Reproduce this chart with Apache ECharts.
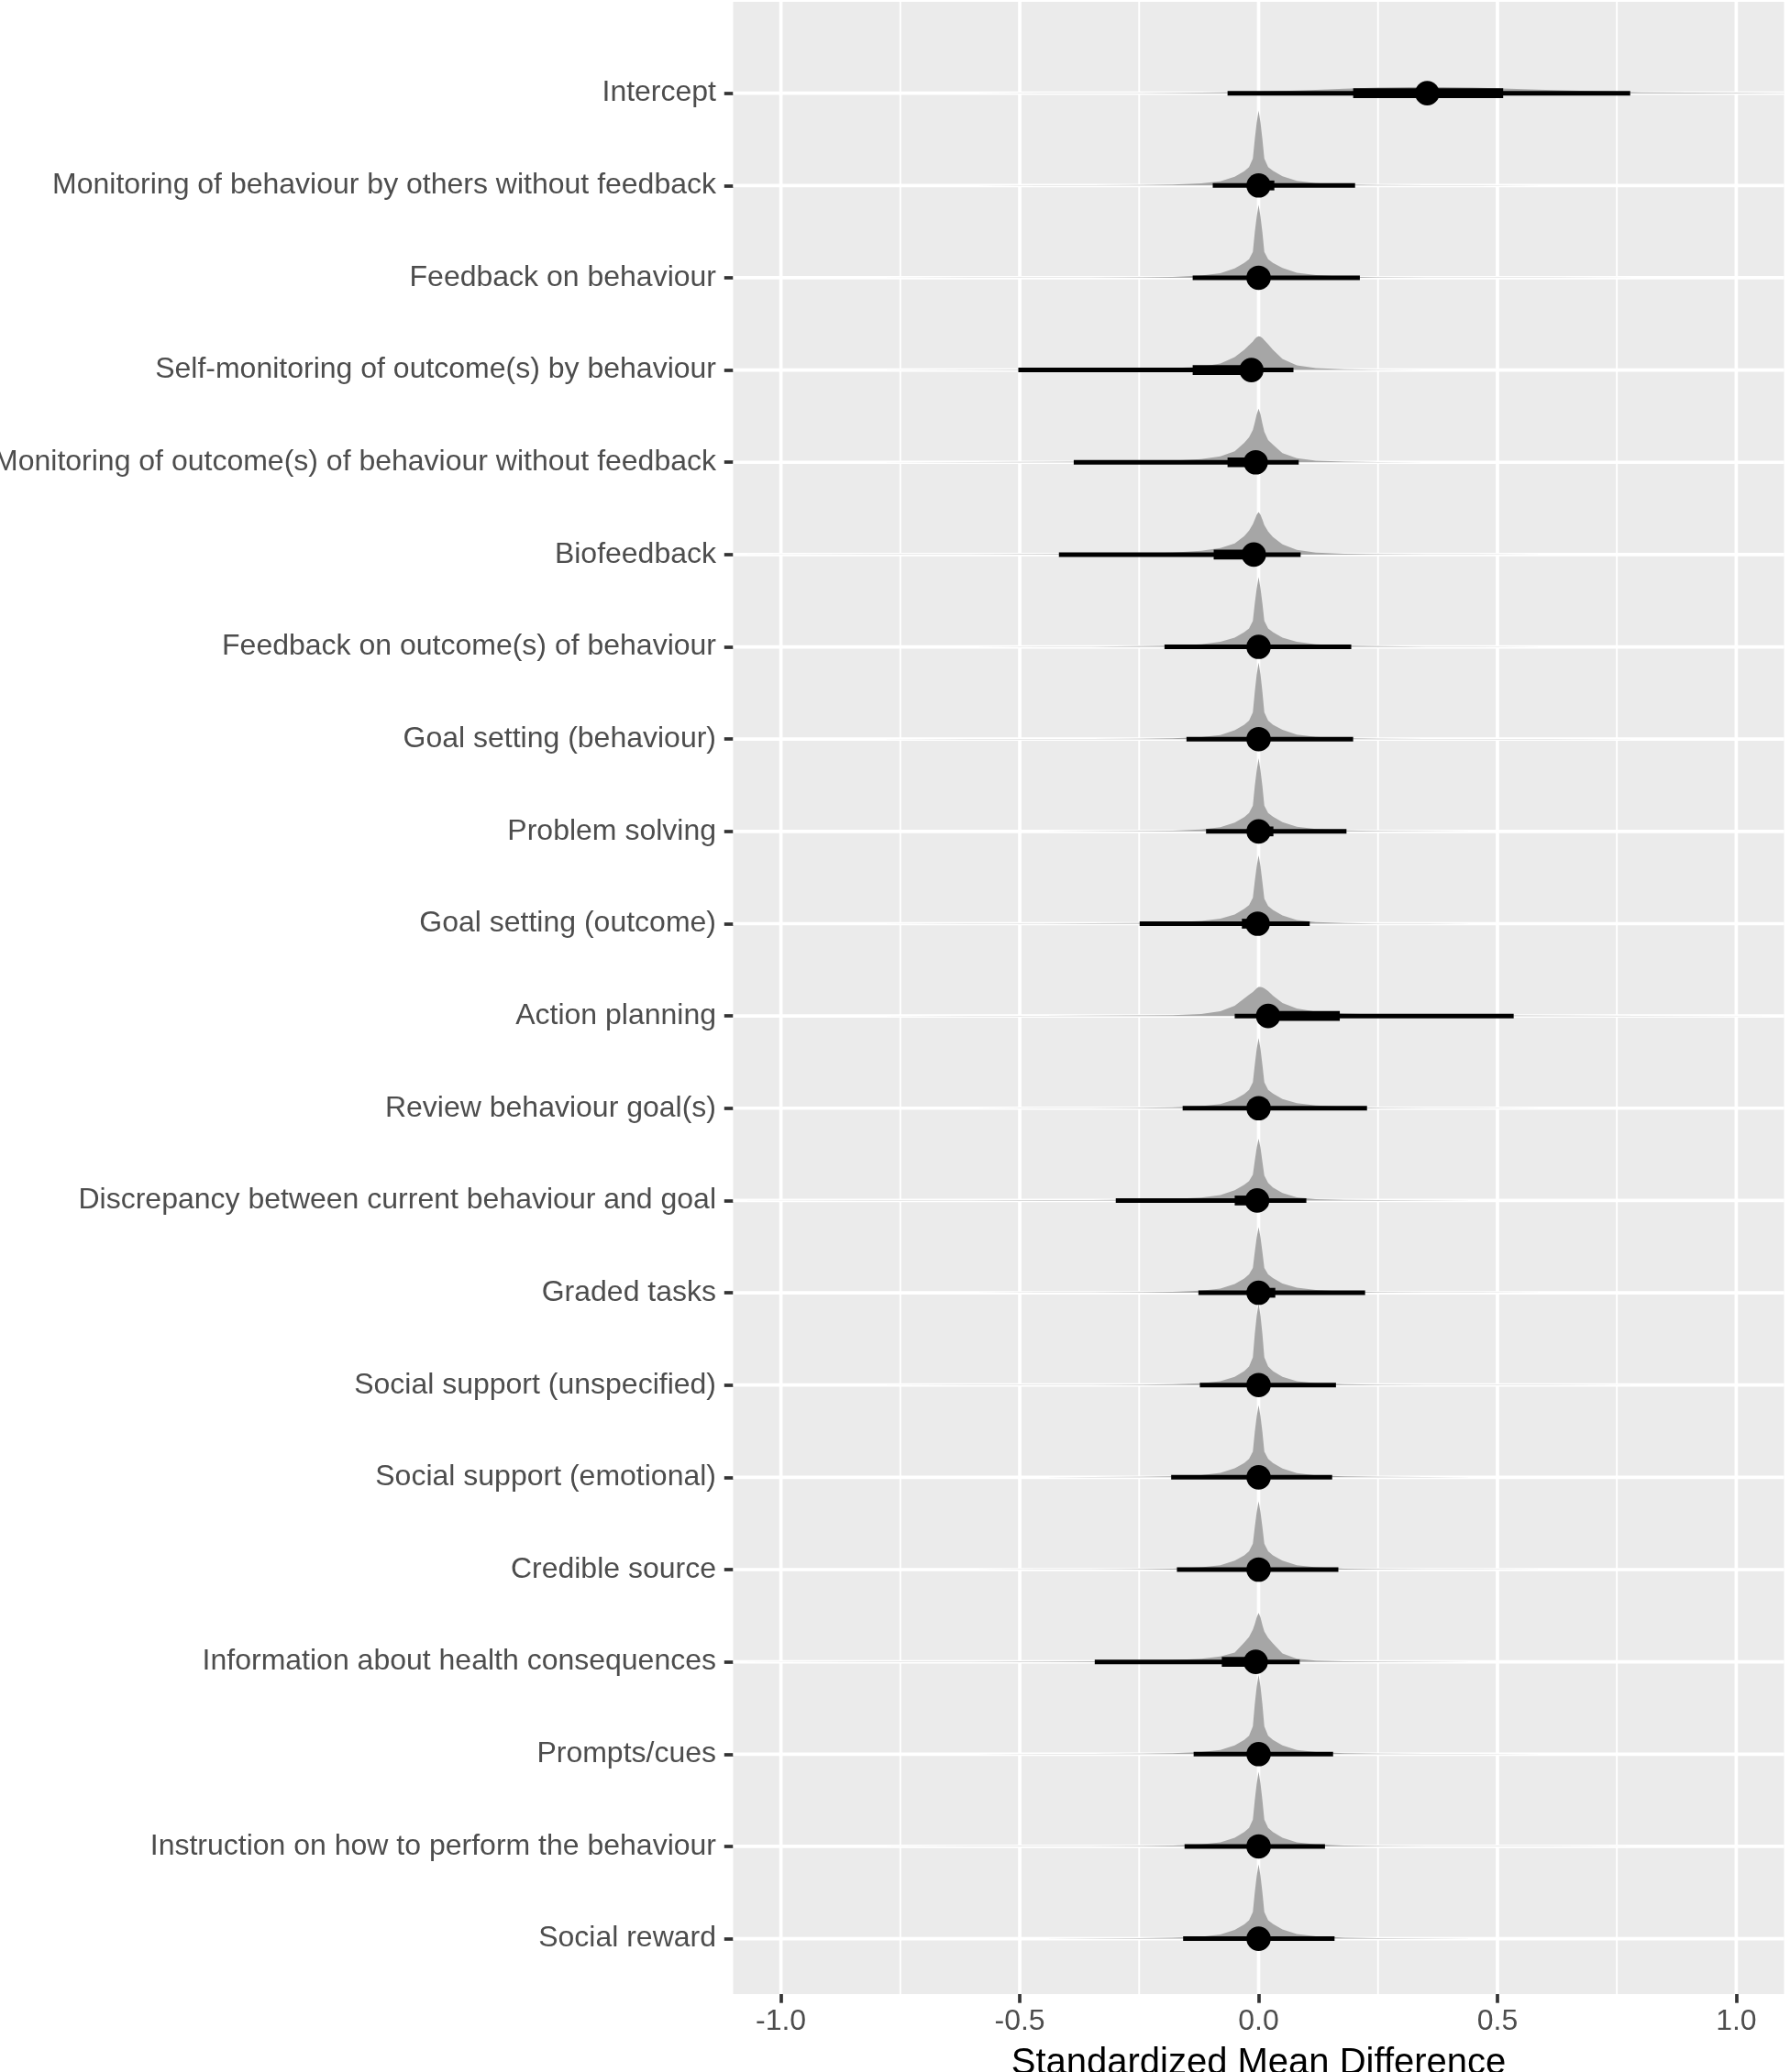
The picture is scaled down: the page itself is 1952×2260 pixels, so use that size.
<!DOCTYPE html>
<html>
<head>
<meta charset="utf-8">
<script src="https://cdn.jsdelivr.net/npm/echarts@6/dist/echarts.min.js"></script>
<style>
  html, body { margin: 0; padding: 0; background: #ffffff; }
  #chart { width: 1952px; height: 2260px; }
</style>
</head>
<body>
<div id="chart"></div>
<script>
// ---------------- DATA ----------------
const categories = [
  "Intercept",
  "Monitoring of behaviour by others without feedback",
  "Feedback on behaviour",
  "Self-monitoring of outcome(s) by behaviour",
  "Monitoring of outcome(s) of behaviour without feedback",
  "Biofeedback",
  "Feedback on outcome(s) of behaviour",
  "Goal setting (behaviour)",
  "Problem solving",
  "Goal setting (outcome)",
  "Action planning",
  "Review behaviour goal(s)",
  "Discrepancy between current behaviour and goal",
  "Graded tasks",
  "Social support (unspecified)",
  "Social support (emotional)",
  "Credible source",
  "Information about health consequences",
  "Prompts/cues",
  "Instruction on how to perform the behaviour",
  "Social reward"
];

// point estimate (median) and intervals
const medians = [0.353, 0, 0, -0.015, -0.006, -0.01, 0, 0, 0, -0.002, 0.02, 0, -0.003, 0, 0, 0, 0, -0.006, 0, 0, 0];
const lo95 = [-0.065, -0.096, -0.138, -0.503, -0.387, -0.418, -0.197, -0.151, -0.110, -0.249, -0.05, -0.159, -0.299, -0.126, -0.123, -0.183, -0.171, -0.343, -0.136, -0.155, -0.158];
const hi95 = [0.778, 0.202, 0.212, 0.073, 0.084, 0.088, 0.194, 0.198, 0.184, 0.107, 0.534, 0.227, 0.100, 0.223, 0.162, 0.154, 0.167, 0.086, 0.156, 0.139, 0.159];
const lo66 = [0.198, -0.019, -0.015, -0.138, -0.065, -0.094, -0.015, -0.015, -0.019, -0.035, 0.0, -0.015, -0.05, -0.019, -0.012, -0.015, -0.015, -0.077, -0.012, -0.012, -0.012];
const hi66 = [0.512, 0.033, 0.015, 0.0, 0.004, 0.0, 0.015, 0.015, 0.031, 0.02, 0.17, 0.015, 0.004, 0.035, 0.012, 0.015, 0.015, 0.003, 0.012, 0.012, 0.012];

// density outline: x positions and heights (fraction of a row) per row
const densX = [-1.1,-0.8,-0.6,-0.45,-0.35,-0.25,-0.18,-0.12,-0.08,-0.05,-0.03,-0.02,-0.012,-0.008,-0.004,0,0.004,0.008,0.012,0.02,0.03,0.05,0.08,0.12,0.18,0.25,0.35,0.45,0.6,0.8,1.1];
const densH = [
  /* Intercept */ [0,0,0,0.0003,0.001,0.002,0.005,0.007,0.01,0.012,0.014,0.015,0.015,0.016,0.016,0.017,0.017,0.017,0.018,0.019,0.021,0.024,0.029,0.037,0.048,0.06,0.068,0.062,0.036,0.009,0.001],
  /* Monitoring by others */ [0,0.0005,0.001,0.002,0.003,0.005,0.01,0.022,0.045,0.095,0.155,0.2,0.29,0.5,0.68,0.81,0.68,0.5,0.29,0.2,0.16,0.1,0.05,0.025,0.01,0.005,0.003,0.002,0.001,0.0005,0],
  /* Feedback on behaviour */ [0,0.0005,0.001,0.002,0.003,0.005,0.01,0.024,0.05,0.1,0.16,0.2,0.28,0.49,0.66,0.79,0.66,0.49,0.28,0.2,0.16,0.105,0.055,0.028,0.012,0.005,0.003,0.002,0.001,0.0005,0],
  /* Self-monitoring outcome */ [0,0.001,0.003,0.006,0.009,0.013,0.02,0.035,0.07,0.14,0.22,0.27,0.31,0.335,0.355,0.365,0.36,0.345,0.325,0.28,0.22,0.12,0.05,0.02,0.008,0.004,0.002,0.001,0,0,0],
  /* Monitoring of outcomes */ [0,0.001,0.002,0.004,0.007,0.011,0.018,0.035,0.065,0.12,0.21,0.27,0.35,0.43,0.52,0.58,0.52,0.42,0.33,0.24,0.19,0.1,0.045,0.018,0.007,0.003,0.001,0,0,0,0],
  /* Biofeedback */ [0,0.001,0.002,0.004,0.007,0.012,0.02,0.04,0.07,0.12,0.2,0.26,0.33,0.38,0.43,0.46,0.43,0.38,0.32,0.25,0.19,0.11,0.05,0.02,0.008,0.004,0.002,0.001,0,0,0],
  /* Feedback on outcomes */ [0,0.0005,0.001,0.002,0.004,0.007,0.013,0.027,0.055,0.1,0.16,0.2,0.28,0.47,0.63,0.755,0.63,0.47,0.28,0.2,0.16,0.1,0.055,0.027,0.013,0.007,0.004,0.002,0.001,0.0005,0],
  /* Goal setting (behaviour) */ [0,0.0005,0.001,0.002,0.003,0.005,0.01,0.022,0.045,0.095,0.155,0.2,0.29,0.51,0.7,0.83,0.7,0.51,0.29,0.2,0.155,0.1,0.05,0.024,0.01,0.005,0.003,0.002,0.001,0.0005,0],
  /* Problem solving */ [0,0.0005,0.001,0.002,0.003,0.005,0.009,0.02,0.045,0.095,0.155,0.2,0.28,0.49,0.66,0.79,0.66,0.49,0.28,0.2,0.16,0.1,0.05,0.025,0.01,0.005,0.003,0.002,0.001,0.0005,0],
  /* Goal setting (outcome) */ [0,0.001,0.002,0.003,0.005,0.008,0.014,0.03,0.055,0.1,0.16,0.2,0.28,0.46,0.62,0.74,0.62,0.45,0.27,0.19,0.15,0.09,0.04,0.018,0.007,0.003,0.002,0.001,0,0,0],
  /* Action planning */ [0,0,0.001,0.002,0.003,0.005,0.008,0.02,0.05,0.11,0.19,0.23,0.26,0.28,0.3,0.315,0.315,0.31,0.3,0.27,0.22,0.14,0.08,0.045,0.025,0.016,0.01,0.007,0.004,0.002,0],
  /* Review behaviour goal(s) */ [0,0.0005,0.001,0.002,0.003,0.005,0.01,0.022,0.045,0.095,0.155,0.2,0.28,0.47,0.64,0.76,0.64,0.47,0.28,0.2,0.16,0.1,0.055,0.03,0.013,0.006,0.003,0.002,0.001,0.0005,0],
  /* Discrepancy */ [0,0.001,0.002,0.003,0.005,0.009,0.016,0.032,0.06,0.11,0.17,0.21,0.28,0.43,0.57,0.67,0.57,0.42,0.27,0.19,0.14,0.08,0.035,0.014,0.006,0.003,0.001,0,0,0,0],
  /* Graded tasks */ [0,0.0005,0.001,0.002,0.003,0.005,0.01,0.022,0.045,0.095,0.155,0.2,0.27,0.44,0.6,0.71,0.6,0.44,0.27,0.2,0.16,0.1,0.055,0.03,0.013,0.006,0.003,0.002,0.001,0.0005,0],
  /* Social support (unspecified) */ [0,0.0005,0.001,0.002,0.003,0.005,0.009,0.02,0.042,0.09,0.15,0.2,0.3,0.55,0.75,0.885,0.75,0.55,0.3,0.2,0.15,0.09,0.042,0.02,0.009,0.005,0.003,0.002,0.001,0.0005,0],
  /* Social support (emotional) */ [0,0.0005,0.001,0.002,0.003,0.006,0.011,0.024,0.048,0.098,0.155,0.2,0.28,0.49,0.66,0.78,0.66,0.49,0.28,0.2,0.155,0.095,0.045,0.022,0.01,0.005,0.003,0.002,0.001,0.0005,0],
  /* Credible source */ [0,0.0005,0.001,0.002,0.003,0.006,0.011,0.024,0.048,0.098,0.155,0.2,0.28,0.46,0.62,0.74,0.62,0.46,0.28,0.2,0.155,0.098,0.048,0.024,0.011,0.006,0.003,0.002,0.001,0.0005,0],
  /* Information about health */ [0,0.001,0.002,0.004,0.006,0.01,0.018,0.035,0.06,0.1,0.21,0.27,0.35,0.41,0.48,0.53,0.48,0.4,0.33,0.26,0.2,0.09,0.035,0.014,0.006,0.003,0.001,0,0,0,0],
  /* Prompts/cues */ [0,0.0005,0.001,0.002,0.003,0.005,0.01,0.022,0.045,0.095,0.155,0.2,0.3,0.54,0.73,0.86,0.73,0.54,0.3,0.2,0.155,0.095,0.045,0.022,0.01,0.005,0.003,0.002,0.001,0.0005,0],
  /* Instruction */ [0,0.0005,0.001,0.002,0.003,0.005,0.01,0.022,0.045,0.095,0.155,0.2,0.29,0.5,0.68,0.81,0.68,0.5,0.29,0.2,0.155,0.095,0.045,0.022,0.01,0.005,0.003,0.002,0.001,0.0005,0],
  /* Social reward */ [0,0.0005,0.001,0.002,0.003,0.005,0.01,0.022,0.045,0.095,0.155,0.2,0.29,0.5,0.68,0.805,0.68,0.5,0.29,0.2,0.16,0.1,0.05,0.025,0.011,0.005,0.003,0.002,0.001,0.0005,0]
];

// axis ticks / grid lines
const xTicks = [-1.0, -0.5, 0.0, 0.5, 1.0];
const xMinor = [-0.75, -0.25, 0.25, 0.75];

// ---------------- CHART ----------------
const FONT = "'Liberation Sans', Arial, Helvetica, sans-serif";
const rowIdx = categories.map((c, i) => i);
const chart = echarts.init(document.getElementById('chart'), null, { renderer: 'canvas' });

function vLineSeries(vals, width) {
  return {
    type: 'custom', silent: true, z: 1, clip: false,
    data: vals.map(v => [v, 0]),
    renderItem: (params, api) => {
      const cs = params.coordSys;
      const x = api.coord([api.value(0), 0])[0];
      return { type: 'line', shape: { x1: x, y1: cs.y, x2: x, y2: cs.y + cs.height },
               style: { stroke: '#FFFFFF', lineWidth: width } };
    }
  };
}

const option = {
  animation: false,
  backgroundColor: '#FFFFFF',
  grid: { left: 799.5, right: 6.5, top: 2, bottom: 85, show: true,
          backgroundColor: '#EBEBEB', borderWidth: 0,
          containLabel: false, outerBoundsMode: 'none' },
  xAxis: {
    type: 'value', min: -1.1, max: 1.1, position: 'bottom',
    axisLine: { show: false, onZero: false },
    splitLine: { show: false },
    axisTick: { show: true, customValues: xTicks, length: 9.7, lineStyle: { color: '#333333', width: 3.7 } },
    axisLabel: { customValues: xTicks, formatter: v => Number(v).toFixed(1), color: '#4D4D4D',
                 fontSize: 32, fontFamily: FONT, margin: 14 },
    name: 'Standardized Mean Difference', nameLocation: 'middle', nameGap: 56,
    nameTextStyle: { color: '#000000', fontSize: 40, fontFamily: FONT, verticalAlign: 'top' }
  },
  yAxis: {
    type: 'value', inverse: true, min: -0.99, max: 20.6, position: 'left',
    axisLine: { show: false, onZero: false },
    splitLine: { show: false },
    axisTick: { show: true, customValues: rowIdx, length: 9.7, lineStyle: { color: '#333333', width: 3.7 } },
    axisLabel: { customValues: rowIdx, formatter: v => categories[Math.round(v)], color: '#4D4D4D',
                 fontSize: 32, fontFamily: FONT, margin: 18.5 }
  },
  series: [
    vLineSeries(xMinor, 1.9),
    vLineSeries(xTicks, 3.7),
    {
      type: 'custom', silent: true, z: 1, clip: false,
      data: rowIdx.map(i => [0, i]),
      renderItem: (params, api) => {
        const cs = params.coordSys;
        const y = api.coord([0, api.value(1)])[1];
        return { type: 'line', shape: { x1: cs.x, y1: y, x2: cs.x + cs.width, y2: y },
                 style: { stroke: '#FFFFFF', lineWidth: 3.7 } };
      }
    },
    {
      type: 'custom', silent: true, z: 2, clip: true,
      data: rowIdx.map(i => [0, i]),
      renderItem: (params, api) => {
        const i = params.dataIndex;
        const row = api.value(1);
        const pts = [api.coord([densX[0], row])];
        densX.forEach((x, k) => pts.push(api.coord([x, row - densH[i][k]])));
        pts.push(api.coord([densX[densX.length - 1], row]));
        return { type: 'polygon', shape: { points: pts }, style: { fill: '#A6A6A6' } };
      }
    },
    {
      type: 'custom', silent: true, z: 3, clip: false,
      data: rowIdx.map(i => [medians[i], i]),
      renderItem: (params, api) => {
        const i = params.dataIndex;
        const row = api.value(1);
        const a95 = api.coord([lo95[i], row]), b95 = api.coord([hi95[i], row]);
        const a66 = api.coord([lo66[i], row]), b66 = api.coord([hi66[i], row]);
        const m = api.coord([api.value(0), row]);
        return { type: 'group', children: [
          { type: 'line', shape: { x1: a95[0], y1: a95[1], x2: b95[0], y2: b95[1] },
            style: { stroke: '#000000', lineWidth: 5, lineCap: 'butt' } },
          { type: 'line', shape: { x1: a66[0], y1: a66[1], x2: b66[0], y2: b66[1] },
            style: { stroke: '#000000', lineWidth: 10.7, lineCap: 'butt' } },
          { type: 'circle', shape: { cx: m[0], cy: m[1], r: 13.3 }, style: { fill: '#000000' } }
        ] };
      }
    }
  ]
};
chart.setOption(option);
</script>
</body>
</html>
